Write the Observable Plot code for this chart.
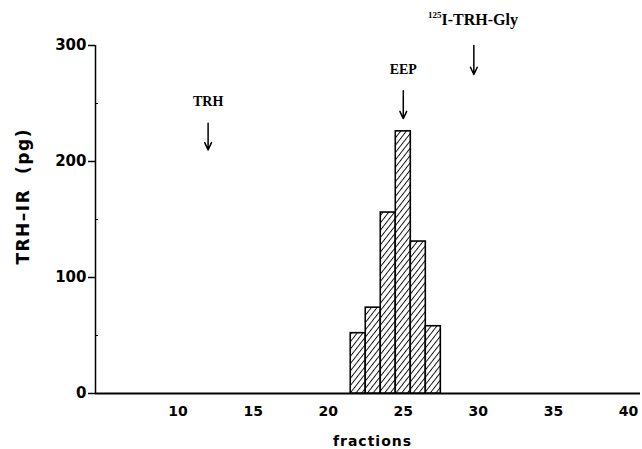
<!DOCTYPE html>
<html><head><meta charset="utf-8">
<script src="https://cdn.jsdelivr.net/npm/d3@7"></script>
<script src="https://cdn.jsdelivr.net/npm/@observablehq/plot@0.6"></script>
<style>body{margin:0;background:#fff}</style>
</head><body><div id="chart"></div>
<script>
// Data
const fractions = [22, 23, 24, 25, 26, 27];
const trhIR = [52, 74, 156, 226, 131, 58];
const xDomain = [4.5, 40.8];
const yDomain = [0, 300];
const xTicks = [10, 15, 20, 25, 30, 35, 40];
const yTicks = [0, 100, 200, 300];
const yMinorTicks = [50, 150, 250];
const yTitle = "TRH\u2013IR  (pg)";
const xTitle = "fractions";

// Annotation markers (elution positions of standards)
const markerLabels = ["TRH", "EEP", "I-TRH-Gly"];
const markerFractions = [12, 25, 29.7];
const arrowTops = [233, 261, 300];
const arrowBottoms = [210, 237, 275];
const labelFractions = [12, 25, 27.55];
const labelValues = [251.5, 279.5, 322];
const isotopeLabel = "125";

const bars = fractions.map((f, i) => ({f, v: trhIR[i]}));
const arrows = markerFractions.map((f, i) => ({f, y1: arrowTops[i], y2: arrowBottoms[i]}));
const labels = markerLabels.map((t, i) => ({t, f: labelFractions[i], v: labelValues[i], anchor: i === 2 ? "start" : "middle"}));

const serif = "'Liberation Serif', 'Times New Roman', serif";

const chart = Plot.plot({
  width: 642, height: 449,
  marginLeft: 95, marginRight: 2, marginTop: 45, marginBottom: 56,
  x: {domain: xDomain},
  y: {domain: yDomain},
  style: {fontFamily: "'DejaVu Sans', sans-serif", fontWeight: "bold", fontSize: "14px", color: "black", background: "white"},
  marks: [
    Plot.axisY({ticks: yTicks, tickSize: 7, tickPadding: 2, label: null, strokeWidth: 1.5, fontSize: 15}),
    Plot.axisY({ticks: yMinorTicks, tickSize: -3, text: null, label: null}),
    Plot.axisX({ticks: xTicks, tickSize: 0, tickPadding: 13, label: null}),
    Plot.ruleX([xDomain[0]], {y1: yDomain[0], y2: yDomain[1], strokeWidth: 1.5}),
    Plot.ruleY([0], {strokeWidth: 2}),
    Plot.rectY(bars, {x1: d => d.f - 0.5, x2: d => d.f + 0.5, y: "v", fill: "url(#hatch)", stroke: "black", strokeWidth: 1.6}),
    Plot.arrow(arrows, {x1: "f", x2: "f", y1: "y1", y2: "y2", stroke: "black", strokeWidth: 1.5, headLength: 8, headAngle: 50, inset: 0}),
    Plot.text(labels.filter(d => d.anchor === "middle"), {x: "f", y: "v", text: "t", fontFamily: serif, fontWeight: "bold", fontSize: 14}),
    Plot.text(labels.filter(d => d.anchor === "start"), {x: "f", y: "v", text: "t", textAnchor: "start", fontFamily: serif, fontWeight: "bold", fontSize: 16}),
    Plot.text(labels.filter(d => d.anchor === "start"), {x: "f", y: "v", text: () => isotopeLabel, textAnchor: "end", dy: -5, fontFamily: serif, fontWeight: "bold", fontSize: 9}),
    Plot.text([yTitle], {x: xDomain[0], y: 170, rotate: -90, dx: -72, fontSize: 17}),
    Plot.text([xTitle], {x: 22.95, frameAnchor: "bottom", dy: 52, fontSize: 14})
  ]
});

const svgSel = d3.select(chart.tagName.toLowerCase() === "svg" ? chart : chart.querySelector("svg"));
svgSel.selectAll("text").filter(function() { return this.textContent === yTitle; }).attr("letter-spacing", "1.5px");
svgSel.selectAll("text").filter(function() { return this.textContent === xTitle; }).attr("letter-spacing", "1px");

const pat = svgSel.insert("defs", ":first-child")
  .append("pattern")
  .attr("id", "hatch")
  .attr("patternUnits", "userSpaceOnUse")
  .attr("width", 4.5).attr("height", 4.5)
  .attr("patternTransform", "rotate(38)");
pat.append("rect").attr("width", 4.5).attr("height", 4.5).attr("fill", "white");
pat.append("line").attr("x1", 0.5).attr("y1", 0).attr("x2", 0.5).attr("y2", 4.5)
  .attr("stroke", "black").attr("stroke-width", 0.9);

document.getElementById("chart").appendChild(chart);
</script>
</body></html>
